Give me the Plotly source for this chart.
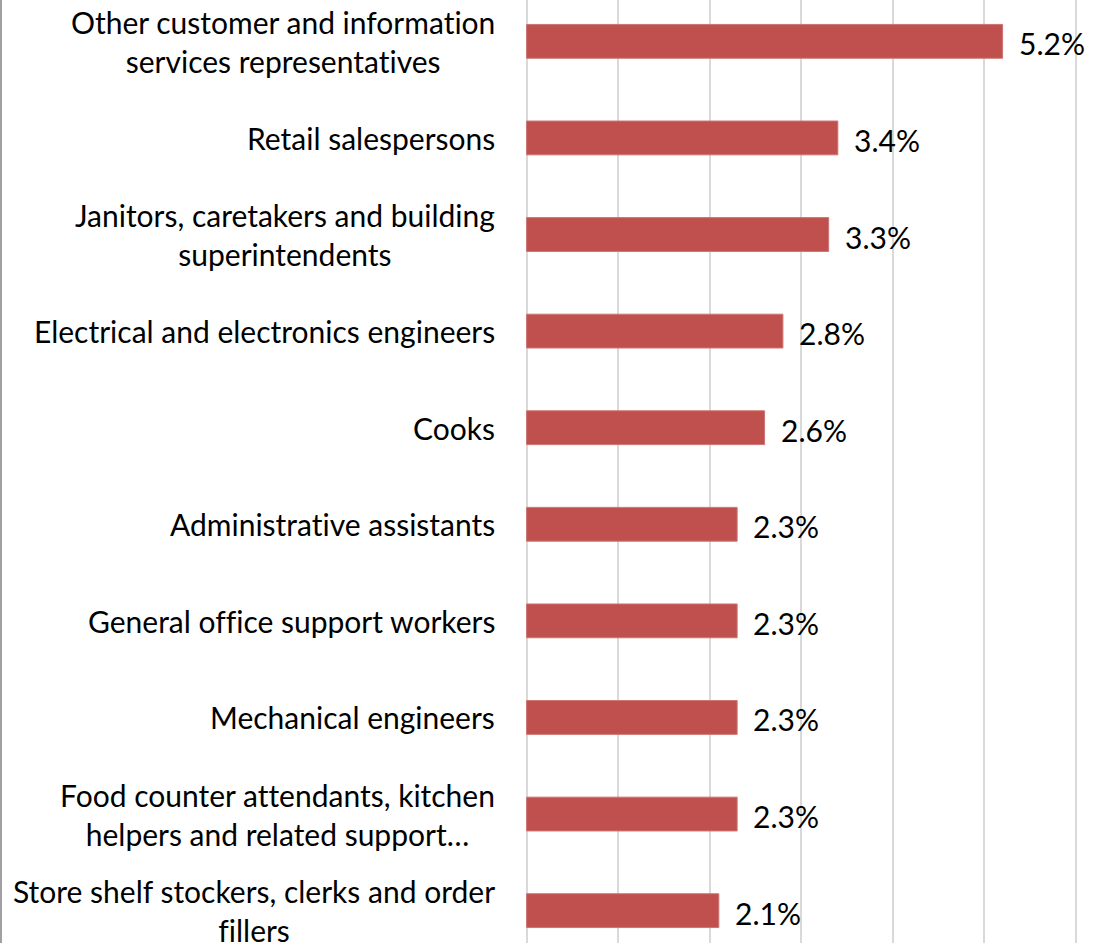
import plotly.graph_objects as go

occupations = [
    "Other customer and information<br>services representatives",
    "Retail salespersons",
    "Janitors, caretakers and building<br>superintendents",
    "Electrical and electronics engineers",
    "Cooks",
    "Administrative assistants",
    "General office support workers",
    "Mechanical engineers",
    "Food counter attendants, kitchen<br>helpers and related support…",
    "Store shelf stockers, clerks and order<br>fillers",
]
shares = [5.2, 3.4, 3.3, 2.8, 2.6, 2.3, 2.3, 2.3, 2.3, 2.1]
share_labels = ["5.2%", "3.4%", "3.3%", "2.8%", "2.6%", "2.3%", "2.3%", "2.3%", "2.3%", "2.1%"]
x_ticks = [0, 1, 2, 3, 4, 5, 6]

FONT = "Lato, Calibri, 'Open Sans', sans-serif"
FONT_SIZE = 30
BAR_RED = "#C0504D"
NO_LIGA = "font-variant-ligatures:none;font-feature-settings:'liga' 0"

W, H = 1098, 943
X_MIN, X_MAX = -0.05, 6.1
L, R = 522, 13

ys = list(range(len(occupations)))

fig = go.Figure(
    go.Bar(
        x=shares,
        y=ys,
        orientation="h",
        width=0.35,
        marker=dict(color=BAR_RED, line=dict(color="#CD7472", width=1)),
        hoverinfo="skip",
    )
)

# category names: centred multi-line labels left of the bars
for i, name in enumerate(occupations):
    lines = name.split("<br>")
    text = "<br>".join(f'<span style="{NO_LIGA}">{ln}</span>' for ln in lines)
    fig.add_annotation(
        x=0, xref="x", xanchor="right", xshift=-30,
        y=i, yref="y", yanchor="middle",
        text=text, showarrow=False, align="center",
        font=dict(family=FONT, size=FONT_SIZE, color="#000000"),
    )

# value labels just beyond each bar end
for i, (v, lab) in enumerate(zip(shares, share_labels)):
    fig.add_annotation(
        x=v, xref="x", xanchor="left", xshift=14,
        y=i, yref="y", yanchor="middle", yshift=-2,
        text=lab, showarrow=False,
        font=dict(family=FONT, size=FONT_SIZE, color="#000000"),
    )

# outer chart border on the left edge
bx = (1 - L) / (W - L - R)
fig.add_shape(
    type="line", xref="paper", yref="paper",
    x0=bx, x1=bx, y0=0, y1=1,
    line=dict(color="#808080", width=1.5),
)

fig.update_layout(
    width=W, height=H,
    margin=dict(l=L, r=R, t=0, b=0),
    plot_bgcolor="white", paper_bgcolor="white",
    showlegend=False,
    xaxis=dict(
        range=[X_MIN, X_MAX], tickvals=x_ticks, showticklabels=False,
        showgrid=True, gridcolor="#D9D9D9", gridwidth=2,
        zeroline=False, showline=False,
    ),
    yaxis=dict(
        range=[9.335, -0.428], showticklabels=False,
        showgrid=False, zeroline=False, showline=False,
    ),
)

fig.write_html("out.html")
